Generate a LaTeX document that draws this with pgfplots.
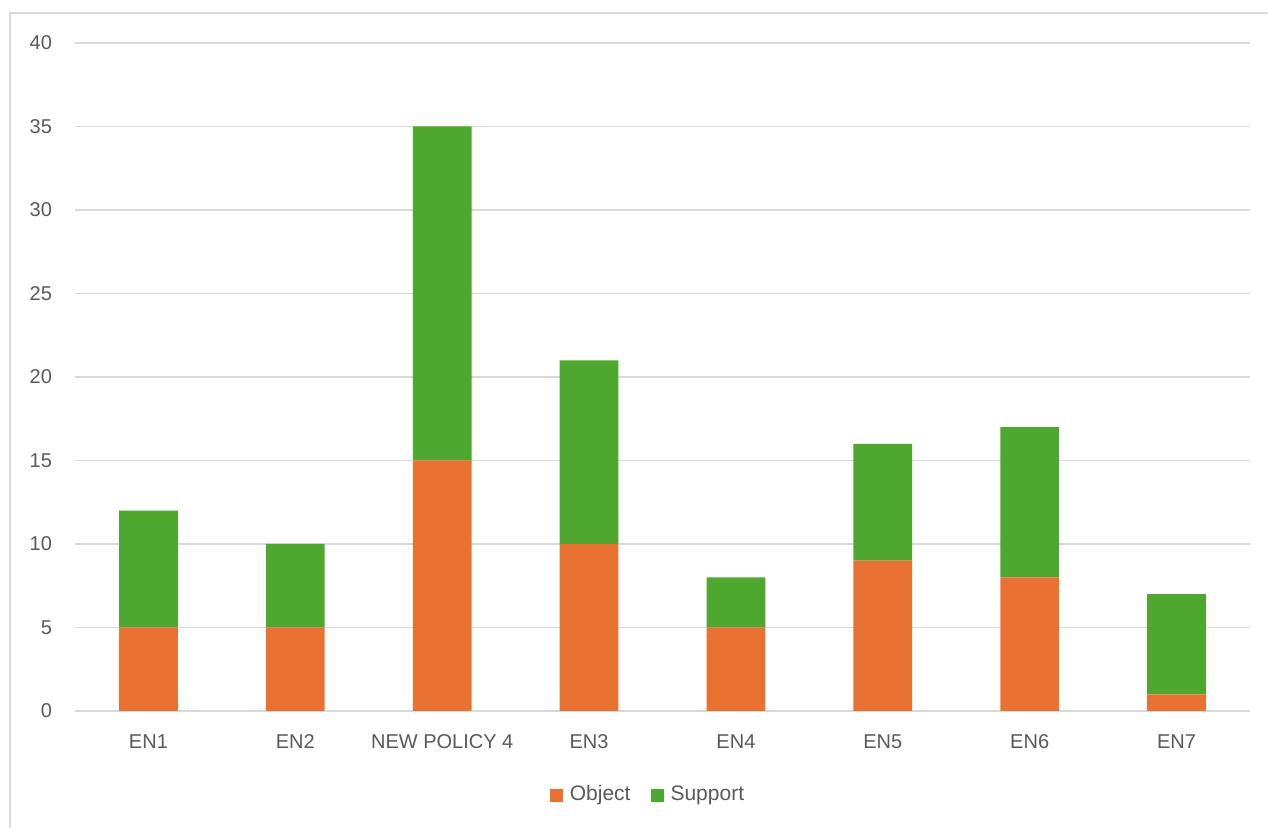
\documentclass[border=0pt]{standalone}
\usepackage{pgfplots}
\pgfplotsset{compat=1.18}
\usepackage{fontspec}
\setmainfont{Liberation Sans}
\definecolor{objc}{HTML}{E97132}
\definecolor{supc}{HTML}{4EA72E}
\definecolor{gridc}{HTML}{D9D9D9}
\definecolor{txtc}{HTML}{595959}
\begin{document}
\begin{tikzpicture}
\useasboundingbox (0,0) rectangle (634pt,414pt);
\draw[gridc, line width=0.6pt] (5pt,-1pt) -- (5pt,407.5pt) -- (640pt,407.5pt);
\begin{axis}[
  at={(37.5pt,58.5pt)}, anchor=south west,
  scale only axis, width=587.5pt, height=334pt,
  ybar stacked, bar width=0.4,
  xmin=-0.5, xmax=7.5, ymin=0, ymax=40,
  xtick={0,1,2,3,4,5,6,7},
  xticklabels={EN1,EN2,NEW POLICY 4,EN3,EN4,EN5,EN6,EN7},
  ytick={0,5,...,40},
  axis line style={draw=none},
  major tick length=0pt,
  ymajorgrids, grid style={gridc, line width=0.6pt},
  tick label style={font=\fontsize{10}{12}\selectfont, text=txtc},
  yticklabel style={xshift=-8pt},
  xticklabel style={yshift=-8pt, anchor=north, text height=7.3pt, text depth=0pt},
  /pgf/number format/assume math mode=true,
  legend columns=2,
  legend style={at={(0.4885,-0.126)}, anchor=center, draw=none, fill=none,
    font=\fontsize{10.5}{12}\selectfont, text=txtc,
    nodes={text height=7.8pt, text depth=2.3pt},
    /tikz/every odd column/.append style={column sep=1.5pt},
    /tikz/every even column/.append style={column sep=8pt}},
  legend image code/.code={\fill[#1] (0pt,-3.25pt) rectangle (6.5pt,3.25pt);},
]
\addplot[fill=objc, draw=none] coordinates {(0,5) (1,5) (2,15) (3,10) (4,5) (5,9) (6,8) (7,1)};
\addplot[fill=supc, draw=none] coordinates {(0,7) (1,5) (2,20) (3,11) (4,3) (5,7) (6,9) (7,6)};
\legend{Object,Support}
\end{axis}
\end{tikzpicture}
\end{document}
